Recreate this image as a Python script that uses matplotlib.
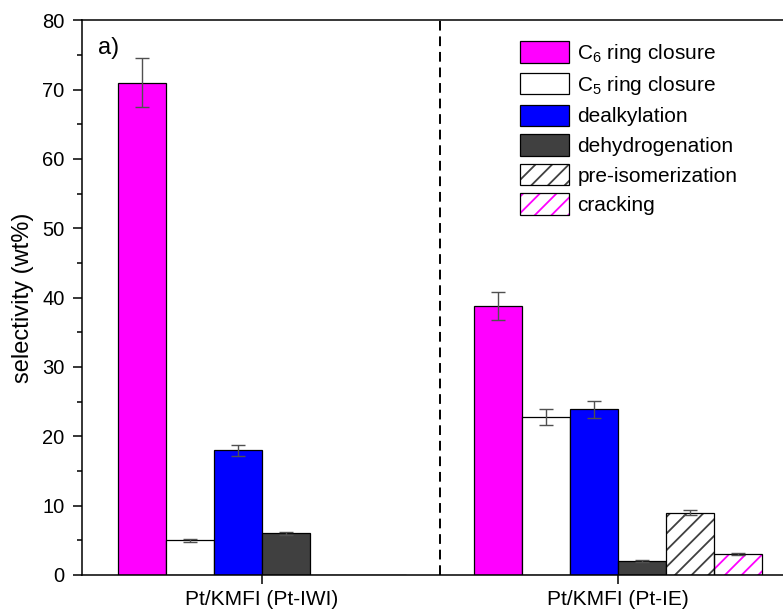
import numpy as np
import matplotlib
matplotlib.use("Agg")
import matplotlib.pyplot as plt
from matplotlib.patches import Patch

plt.rcParams["font.family"] = ["Liberation Sans", "DejaVu Sans"]
plt.rcParams["mathtext.fontset"] = "custom"
plt.rcParams["mathtext.rm"] = "Liberation Sans"
plt.rcParams["mathtext.it"] = "Liberation Sans:italic"
plt.rcParams["hatch.linewidth"] = 1.3

# === Daten ===
catalysts = ["Pt/KMFI (Pt-IWI)", "Pt/KMFI (Pt-IE)"]
products = ["C$_6$ ring closure", "C$_5$ ring closure", "dealkylation",
            "dehydrogenation", "pre-isomerization", "cracking"]
c6_ring = [71.0, 38.8]
c6_err = [3.5, 2.0]
c5_ring = [5.0, 22.8]
c5_err = [0.2, 1.1]
dealkylation = [18.0, 23.9]
dealkylation_err = [0.8, 1.2]
dehydrogenation = [6.0, 2.0]
dehydrogenation_err = [0.25, 0.1]
pre_isomerization = [0.0, 9.0]
pre_isomerization_err = [0.0, 0.4]
cracking = [0.0, 3.0]
cracking_err = [0.0, 0.15]

series = [c6_ring, c5_ring, dealkylation, dehydrogenation, pre_isomerization, cracking]
errors = [c6_err, c5_err, dealkylation_err, dehydrogenation_err, pre_isomerization_err, cracking_err]

fig = plt.figure(figsize=(7.83, 6.13), dpi=100)
ax = fig.add_axes([0.1047, 0.062, 0.9145, 0.905])

x = np.arange(1, len(catalysts) + 1)
w = 0.1348
offsets = (np.arange(6) - 2.5) * w

fills = ["#ff00ff", "white", "#0000ff", "#404040", "white", "white"]
hatches = [None, None, None, None, "//", "//"]
hatch_cols = [None, None, None, None, "#404040", "#ff00ff"]

handles = []
for i, (vals, errs) in enumerate(zip(series, errors)):
    pos = x + offsets[i]
    if hatches[i]:
        ax.bar(pos, vals, w, color="white", edgecolor=hatch_cols[i], hatch=hatches[i],
               linewidth=0, zorder=2)
        ax.bar(pos, vals, w, fill=False, edgecolor="black", linewidth=0.9, zorder=3)
        h = (Patch(facecolor="white", edgecolor=hatch_cols[i], hatch=hatches[i], linewidth=0),
             Patch(fill=False, edgecolor="black", linewidth=0.9))
    else:
        ax.bar(pos, vals, w, color=fills[i], edgecolor="black", linewidth=0.9, zorder=2)
        h = Patch(facecolor=fills[i], edgecolor="black", linewidth=0.9)
    handles.append(h)
    vals = np.array(vals)
    errs = np.array(errs)
    m = vals > 0
    ax.errorbar(pos[m], vals[m], yerr=errs[m], fmt="none", ecolor="#505050",
                elinewidth=1.0, capsize=5, capthick=1.0, zorder=4)

ax.axvline(1.5, color="black", linestyle=(0, (5, 3)), linewidth=1.4, zorder=1)

ax.set_xlim(1 - 0.5056, 2 + 0.5056)
ax.set_ylim(0, 80)
ax.set_xticks(x)
ax.set_xticklabels(catalysts, fontsize=15)
ax.set_yticks(np.arange(0, 81, 10))
ax.set_yticks(np.arange(5, 80, 10), minor=True)
ax.tick_params(axis="y", labelsize=14.5, length=6.5, width=1.1, pad=6)
ax.tick_params(axis="y", which="minor", length=3.6, width=1.1)
ax.tick_params(axis="x", length=6.5, width=1.1, pad=4)
ax.set_ylabel("selectivity (wt%)", fontsize=17, labelpad=6)
for s in ax.spines.values():
    s.set_linewidth(1.1)

ax.text(0.022, 0.97, "a)", transform=ax.transAxes, fontsize=17, va="top", ha="left")

ax.legend(handles, products, loc="upper left", bbox_to_anchor=(0.612, 0.962),
          frameon=False, fontsize=15, handlelength=2.35, handleheight=1.2,
          labelspacing=0.38, handletextpad=0.4, borderpad=0, borderaxespad=0)

fig.savefig("out.png", dpi=100)
